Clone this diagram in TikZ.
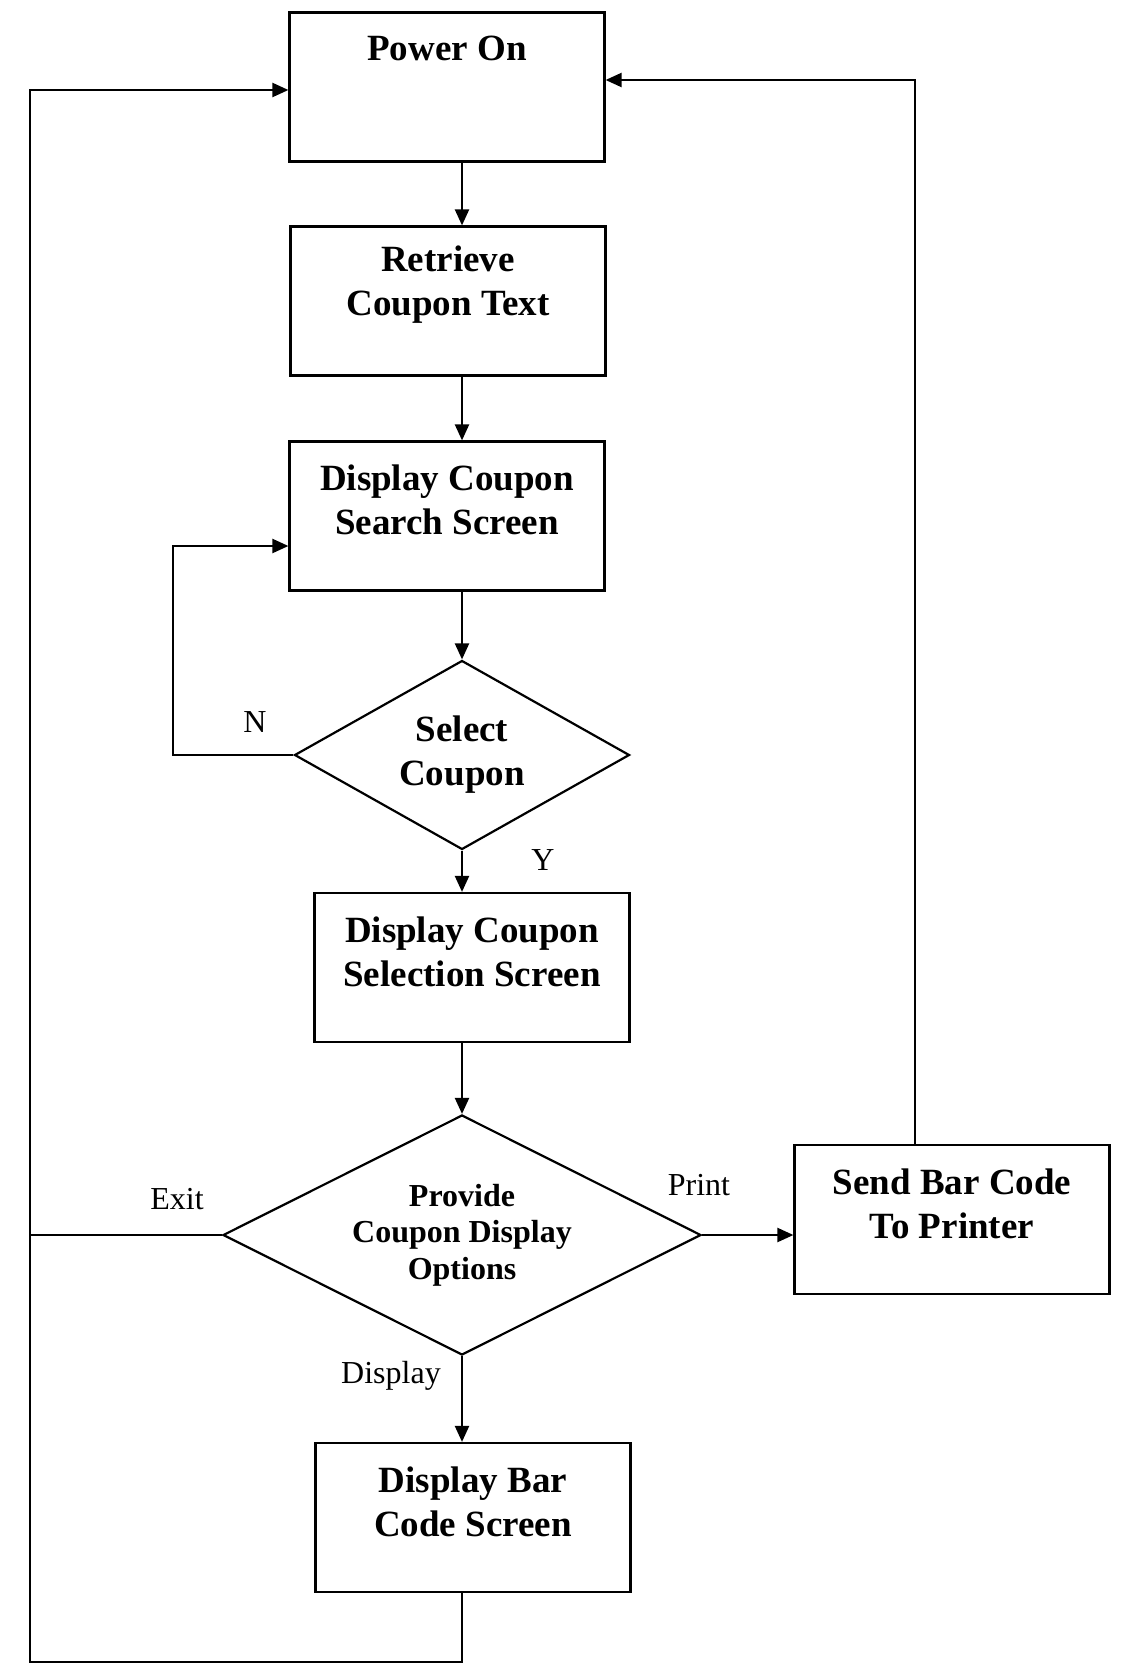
\documentclass[tikz,border=0pt]{standalone}
\usepackage{fontspec}
\setmainfont{Liberation Serif}
\usetikzlibrary{arrows.meta,shapes.geometric}

\tikzset{
  flow/.style={line width=1.1pt, black},
  arr/.style={flow, -{Triangle[length=8pt,width=7pt]}},
  box/.style={draw, line width=1.1pt, rectangle, minimum width=157.5pt, minimum height=74.5pt, inner sep=0pt},
  decision/.style={draw, line width=1.1pt, diamond, inner sep=0pt, align=center},
  boxtext/.style={align=center, inner sep=0pt, font=\fontsize{18.5pt}{22pt}\selectfont\bfseries},
  tag/.style={inner sep=0pt, font=\fontsize{16pt}{18pt}\selectfont},
}

\begin{document}
\begin{tikzpicture}[x=0.5pt, y=-0.5pt]
\useasboundingbox (0,0) rectangle (1126,1669);

% main column and routing points
\coordinate (col) at (462,0);
\coordinate (lt) at (30,90);
\coordinate (lb) at (30,1662);
\coordinate (rt) at (915,80);
\coordinate (nl) at (173,546);

% process boxes
\node[box] (power) at (447,87) {};
\node[boxtext] (power-t) at (447,48) {Power On};

\node[box] (retrieve) at (448,301) {};
\node[boxtext] (retrieve-t) at (448,285) {Retrieve\\Coupon Text};

\node[box] (search) at (447,516) {};
\node[boxtext] (search-t) at (447,500) {Display Coupon\\Search Screen};

\node[decision, aspect=1.77, minimum width=167.5pt, minimum height=94.5pt,
      font=\fontsize{18.5pt}{22pt}\selectfont\bfseries] (select) at (462,755) {Select\\Coupon};

\node[box] (selection) at (472,967.5) {};
\node[boxtext] (selection-t) at (472,952) {Display Coupon\\Selection Screen};

\node[decision, aspect=2, minimum width=239pt, minimum height=120pt,
      font=\fontsize{16pt}{18.2pt}\selectfont\bfseries] (provide) at (462,1235) {Provide\\Coupon Display\\Options};

\node[box] (send) at (952,1219.5) {};
\node[boxtext] (send-t) at (952,1204) {Send Bar Code\\To Printer};

\node[box] (bar) at (473,1517.5) {};
\node[boxtext] (bar-t) at (473,1502) {Display Bar\\Code Screen};

% main flow
\draw[arr] (power.south -| col) -- (retrieve.north -| col);
\draw[arr] (retrieve.south -| col) -- (search.north -| col);
\draw[arr] (search.south -| col) -- (select.north);
\draw[arr] (select.south) -- (selection.north -| col);
\draw[arr] (selection.south -| col) -- (provide.north);
\draw[arr] (provide.south) -- (bar.north -| col);
\draw[arr] (provide.east) -- (provide.east -| send.west);

% loop back when no coupon is selected
\draw[arr] (select.west) -| (nl) -- (nl -| search.west);

% return paths to power on
\draw[arr] (bar.south -| col) |- (lb) -- (lt) -- (lt -| power.west);
\draw[flow] (provide.west) -- (provide.west -| lb);
\draw[arr] (send.north -| rt) -- (rt) -- (rt -| power.east);

% branch labels
\node[tag] (lab-n) at (255,722) {N};
\node[tag] (lab-y) at (543,860) {Y};
\node[tag] (lab-exit) at (177,1199) {Exit};
\node[tag] (lab-print) at (699,1185) {Print};
\node[tag] (lab-display) at (391,1376) {Display};
\end{tikzpicture}
\end{document}
